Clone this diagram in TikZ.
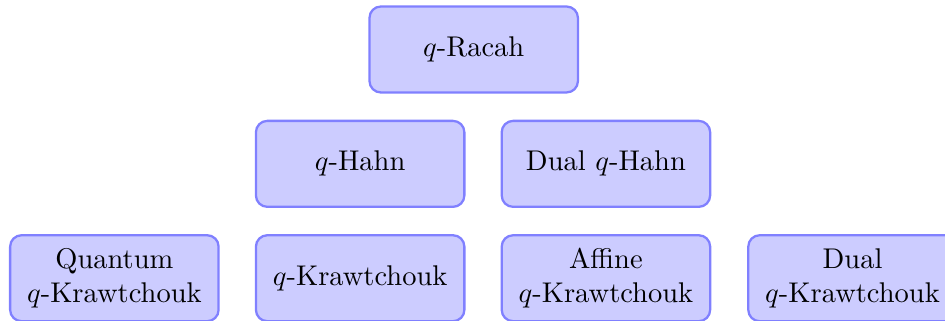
\documentclass[tikz,border=0pt]{standalone}
\begin{document}
\begin{tikzpicture}[family/.style={draw=blue!50,fill=blue!20,thick,rounded corners,minimum width=2.57cm,minimum height=1.06cm,align=center}]
\useasboundingbox (0,0) rectangle (11.65,-3.95);
\node[family] (qracah) at (5.84,-0.61) {$q$-Racah};
\node[family] (qhahn) at (4.44,-2.02) {$q$-Hahn};
\node[family] (dualqhahn) at (7.47,-2.02) {Dual $q$-Hahn};
\node[family] (quantumqk) at (1.41,-3.43) {Quantum\\$q$-Krawtchouk};
\node[family] (qk) at (4.44,-3.43) {$q$-Krawtchouk};
\node[family] (affineqk) at (7.47,-3.43) {Affine\\$q$-Krawtchouk};
\node[family] (dualqk) at (10.51,-3.43) {Dual\\$q$-Krawtchouk};
\end{tikzpicture}
\end{document}
